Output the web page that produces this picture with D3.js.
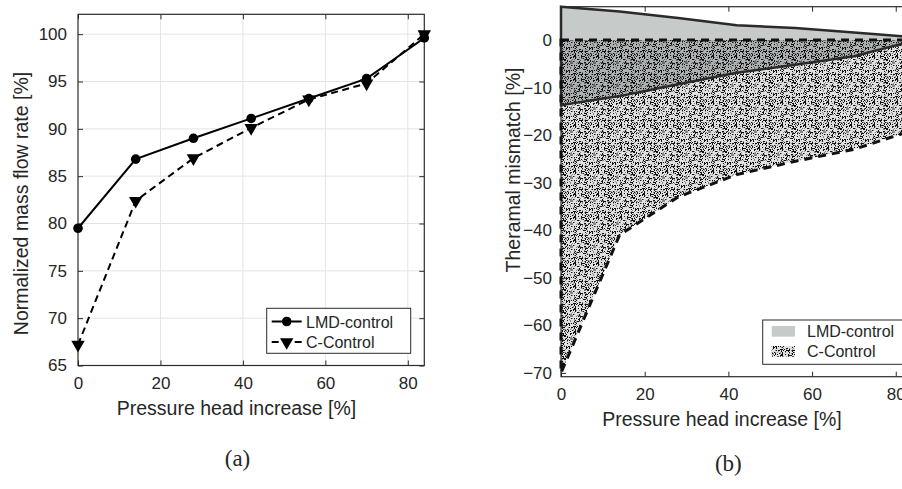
<!DOCTYPE html>
<html><head><meta charset="utf-8">
<script src="https://cdn.jsdelivr.net/npm/d3@7"></script>
<style>
body{margin:0;background:#fff}
svg{display:block}
text{font-family:"Liberation Sans",Arial,Helvetica,sans-serif;fill:#262626}
</style>
</head><body>
<svg id="c" width="902" height="489"></svg>
<script>
// ---------- data ----------
const pressureHead = [0, 14, 28, 42, 56, 70, 84];
const lmdFlow = [79.5, 86.8, 89.0, 91.1, 93.2, 95.3, 99.6];
const cFlow = [67.2, 82.4, 86.9, 90.1, 93.1, 94.8, 100.0];
const lmdUpper = [7.0, 6.0, 4.6, 3.1, 2.5, 1.6, 0.6];
const lmdLower = [-13.7, -11.8, -9.3, -6.9, -5.2, -3.4, -0.2];
const cUpper = [0, 0, 0, 0, 0, 0, 0];
const cLower = [-70, -41, -33, -28.3, -25.5, -23, -19.0];
const xTicks = [0, 20, 40, 60, 80];
const flowTicks = [65, 70, 75, 80, 85, 90, 95, 100];
const mismatchTicks = [-70, -60, -50, -40, -30, -20, -10, 0];
const seriesNames = ["LMD-control", "C-Control"];

const svg = d3.select("#c");
const axisColor = "#2b2b2b";

// stipple texture (deterministic hash noise tile)
const defs = svg.append("defs");
const T = 23;
const pat = defs.append("pattern").attr("id", "stip")
  .attr("patternUnits", "userSpaceOnUse").attr("width", T).attr("height", T);
pat.append("rect").attr("width", T).attr("height", T).attr("fill", "#000").attr("fill-opacity", 0.12);
function noise(x, y) { const s = Math.sin(x * 127.1 + y * 311.7) * 43758.5453; return s - Math.floor(s); }
for (let yy = 0; yy < T; yy++) for (let xx = 0; xx < T; xx++) {
  const n = noise(xx, yy);
  if (n < 0.24) pat.append("rect").attr("x", xx).attr("y", yy).attr("width", 1).attr("height", 1).attr("fill", "#111");
  else if (n < 0.38) pat.append("rect").attr("x", xx).attr("y", yy).attr("width", 1).attr("height", 1).attr("fill", "#000").attr("fill-opacity", 0.4);
}

// ---------- left chart ----------
const xL = d3.scaleLinear().domain([0, 84]).range([78, 424.3]);
const yL = d3.scaleLinear().domain([65, 102.1]).range([365.5, 14.3]);
const gL = svg.append("g");

// grid
gL.append("g").selectAll("line").data(xTicks.slice(1)).join("line")
  .attr("x1", d => xL(d)).attr("x2", d => xL(d)).attr("y1", yL.range()[1]).attr("y2", yL.range()[0])
  .attr("stroke", "#e4e4e4").attr("stroke-width", 1);
gL.append("g").selectAll("line").data(flowTicks.slice(1)).join("line")
  .attr("y1", d => yL(d)).attr("y2", d => yL(d)).attr("x1", xL.range()[0]).attr("x2", xL.range()[1])
  .attr("stroke", "#e4e4e4").attr("stroke-width", 1);

function styleAxis(g) {
  g.select(".domain").remove();
  g.selectAll(".tick line").attr("stroke", axisColor).attr("stroke-width", 1);
  g.selectAll(".tick text").attr("font-size", 17).attr("fill", "#262626")
    .style("font-family", '"Liberation Sans",Arial,sans-serif');
}
function drawAxes(g, x, y, yTicks, xPad, yPad) {
  g.append("g").attr("transform", `translate(0,${y.range()[0]})`)
    .call(d3.axisBottom(x).tickValues(xTicks).tickSizeInner(-5).tickSizeOuter(0).tickPadding(xPad))
    .call(styleAxis);
  g.append("g").attr("transform", `translate(0,${y.range()[1]})`)
    .call(d3.axisTop(x).tickValues(xTicks).tickSizeInner(-5).tickSizeOuter(0).tickFormat(""))
    .call(styleAxis);
  g.append("g").attr("transform", `translate(${x.range()[0]},0)`)
    .call(d3.axisLeft(y).tickValues(yTicks).tickSizeInner(-5).tickSizeOuter(0).tickPadding(yPad))
    .call(styleAxis);
  g.append("g").attr("transform", `translate(${x.range()[1]},0)`)
    .call(d3.axisRight(y).tickValues(yTicks).tickSizeInner(-5).tickSizeOuter(0).tickFormat(""))
    .call(styleAxis);
  g.append("rect").attr("x", x.range()[0]).attr("y", y.range()[1])
    .attr("width", x.range()[1] - x.range()[0]).attr("height", y.range()[0] - y.range()[1])
    .attr("fill", "none").attr("stroke", axisColor).attr("stroke-width", 1.2);
}
drawAxes(gL, xL, yL, flowTicks, 11, 11);

const lineL = d3.line().x((d, i) => xL(pressureHead[i])).y(d => yL(d));
gL.append("path").attr("d", lineL(lmdFlow)).attr("fill", "none").attr("stroke", "#000").attr("stroke-width", 2);
gL.append("path").attr("d", lineL(cFlow)).attr("fill", "none").attr("stroke", "#000").attr("stroke-width", 2)
  .attr("stroke-dasharray", "7,4.5");
gL.append("g").selectAll("circle").data(lmdFlow).join("circle")
  .attr("cx", (d, i) => xL(pressureHead[i])).attr("cy", d => yL(d)).attr("r", 4.8).attr("fill", "#000");
const tri = d3.symbol().type(d3.symbolTriangle).size(78);
gL.append("g").selectAll("path").data(cFlow).join("path")
  .attr("d", tri).attr("fill", "#000")
  .attr("transform", (d, i) => `translate(${xL(pressureHead[i])},${yL(d)}) rotate(180)`);

// axis labels
svg.append("text").attr("x", 236.5).attr("y", 415).attr("text-anchor", "middle").attr("font-size", 19.5)
  .text("Pressure head increase [%]");
svg.append("text").attr("transform", "translate(27.5,203.5) rotate(-90)").attr("text-anchor", "middle")
  .attr("font-size", 19.5).text("Normalized mass flow rate [%]");

// legend left
const lgL = svg.append("g");
lgL.append("rect").attr("x", 266.7).attr("y", 308.3).attr("width", 144).attr("height", 45)
  .attr("fill", "#fff").attr("stroke", axisColor).attr("stroke-width", 1);
lgL.append("line").attr("x1", 271.7).attr("x2", 301.7).attr("y1", 321.5).attr("y2", 321.5).attr("stroke", "#000").attr("stroke-width", 2);
lgL.append("circle").attr("cx", 286.7).attr("cy", 321.5).attr("r", 4.8).attr("fill", "#000");
lgL.append("line").attr("x1", 271.7).attr("x2", 301.7).attr("y1", 342).attr("y2", 342).attr("stroke", "#000").attr("stroke-width", 2)
  .attr("stroke-dasharray", "7,4.5");
lgL.append("path").attr("d", tri).attr("fill", "#000").attr("transform", "translate(286.7,342) rotate(180)");
lgL.append("text").attr("x", 306).attr("y", 327.5).attr("font-size", 16).text(seriesNames[0]);
lgL.append("text").attr("x", 306).attr("y", 348).attr("font-size", 16).text(seriesNames[1]);

// ---------- right chart ----------
const xR = d3.scaleLinear().domain([0, 84]).range([561, 912.5]);
const yR = d3.scaleLinear().domain([-70.8, 7]).range([376.7, 6.7]);
const gR = svg.append("g");
drawAxes(gR, xR, yR, mismatchTicks, 11, 9);

function patchPts(upper, lower) {
  const pts = upper.map((v, i) => [xR(pressureHead[i]), yR(v)]);
  for (let i = lower.length - 1; i >= 0; i--) pts.push([xR(pressureHead[i]), yR(lower[i])]);
  return pts;
}
const closed = d3.line().curve(d3.curveLinearClosed);
const lmdPatch = patchPts(lmdUpper, lmdLower);
const cPatch = patchPts(cUpper, cLower);
gR.append("path").attr("d", closed(lmdPatch)).attr("fill", "#c6cac9");
gR.append("path").attr("d", closed(cPatch)).attr("fill", "url(#stip)");
gR.append("path").attr("d", closed(lmdPatch)).attr("fill", "none").attr("stroke", "#2a2a2a").attr("stroke-width", 2.5);
gR.append("path").attr("d", closed(cPatch)).attr("fill", "none").attr("stroke", "#111").attr("stroke-width", 3)
  .attr("stroke-dasharray", "8,6");

svg.append("text").attr("x", 722).attr("y", 425.5).attr("text-anchor", "middle").attr("font-size", 19.5)
  .text("Pressure head increase [%]");
svg.append("text").attr("transform", "translate(519.5,170) rotate(-90)").attr("text-anchor", "middle")
  .attr("font-size", 19.5).text("Theramal mismatch [%]");

// legend right
const lgR = svg.append("g");
lgR.append("rect").attr("x", 762.7).attr("y", 320).attr("width", 144).attr("height", 44.3)
  .attr("fill", "#fff").attr("stroke", axisColor).attr("stroke-width", 1);
lgR.append("rect").attr("x", 771.7).attr("y", 326).attr("width", 23.3).attr("height", 10.7).attr("fill", "#c6cac9");
lgR.append("rect").attr("x", 771.7).attr("y", 346).attr("width", 23.3).attr("height", 10.7).attr("fill", "url(#stip)");
lgR.append("text").attr("x", 807).attr("y", 337).attr("font-size", 16).text(seriesNames[0]);
lgR.append("text").attr("x", 807).attr("y", 357).attr("font-size", 16).text(seriesNames[1]);

// sub captions
svg.append("text").attr("x", 237.5).attr("y", 466).attr("text-anchor", "middle").attr("font-size", 23)
  .style("font-family", '"Liberation Serif","Times New Roman",serif').attr("fill", "#222").text("(a)");
svg.append("text").attr("x", 728.3).attr("y", 471).attr("text-anchor", "middle").attr("font-size", 23)
  .style("font-family", '"Liberation Serif","Times New Roman",serif').attr("fill", "#222").text("(b)");
</script>
</body></html>
